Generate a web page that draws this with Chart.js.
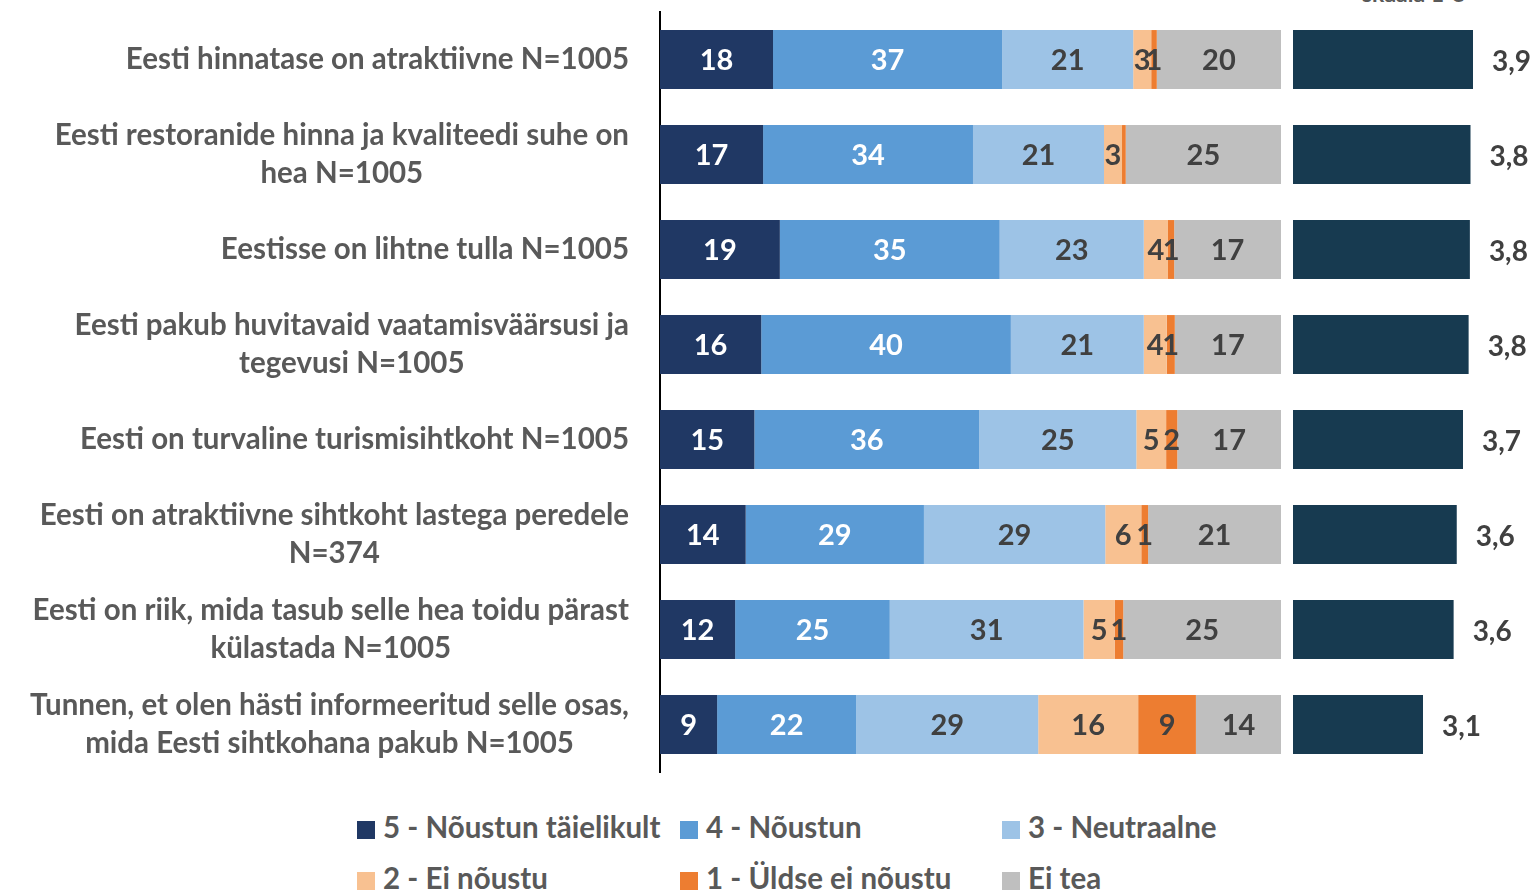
<!DOCTYPE html>
<html>
<head>
<meta charset="utf-8">
<title>Eesti kui sihtkoht</title>
<script src="https://cdn.jsdelivr.net/npm/chart.js@4.4.1/dist/chart.umd.min.js"></script>
<style>
  body { margin: 0; width: 1534px; height: 891px; overflow: hidden; background: #fff; position: relative; font-family: Lato, "Open Sans", sans-serif; }
  #mainChart { position: absolute; left: 0; top: 0; }
  #avgChart { position: absolute; left: 1285px; top: 0; }
  #scaleNote { position: absolute; left: 1362px; top: -21px; font-size: 23px; font-weight: bold; color: #595959; }
  .legItem { position: absolute; font-size: 29.5px; font-weight: bold; color: #595959; white-space: nowrap; line-height: 32px; }
  .legItem span { display: inline-block; width: 18px; height: 18px; margin-right: 8px; vertical-align: -1px; }
</style>
</head>
<body>
<div id="scaleNote">skaala 1-5</div>
<canvas id="mainChart" width="1285" height="780"></canvas>
<canvas id="avgChart" width="262" height="780"></canvas>
<div id="legend"></div>
<script>
// kategooriad (väited)
const categories = [
    "Eesti hinnatase on atraktiivne N=1005",
    ["Eesti restoranide hinna ja kvaliteedi suhe on", "hea N=1005"],
    "Eestisse on lihtne tulla N=1005",
    ["Eesti pakub huvitavaid vaatamisväärsusi ja", "tegevusi N=1005"],
    "Eesti on turvaline turismisihtkoht N=1005",
    ["Eesti on atraktiivne sihtkoht lastega peredele", "N=374"],
    ["Eesti on riik, mida tasub selle hea toidu pärast", "külastada N=1005"],
    ["Tunnen, et olen hästi informeeritud selle osas,", "mida Eesti sihtkohana pakub N=1005"]
];

// vastuste jaotus, %
const noustunTaielikult = [18.2, 16.6, 19.3, 16.3, 15.2, 13.8, 12.1, 9.2];
const noustun = [36.9, 33.8, 35.4, 40.2, 36.2, 28.7, 24.9, 22.4];
const neutraalne = [21.1, 21.1, 23.2, 21.4, 25.3, 29.2, 31.2, 29.3];
const eiNoustu = [2.9, 2.9, 3.9, 3.7, 4.8, 5.8, 5.0, 16.1];
const uldseEiNoustu = [0.9, 0.6, 1.0, 1.3, 1.8, 1.1, 1.4, 9.3];
const eiTea = [20.0, 25.0, 17.2, 17.1, 16.7, 21.4, 25.4, 13.7];

// keskmised, skaala 1-5
const averages = [3.88, 3.84, 3.83, 3.81, 3.72, 3.62, 3.57, 3.08];

const seriesNames = ["5 - Nõustun täielikult", "4 - Nõustun", "3 - Neutraalne", "2 - Ei nõustu", "1 - Üldse ei nõustu", "Ei tea"];
const seriesData = [noustunTaielikult, noustun, neutraalne, eiNoustu, uldseEiNoustu, eiTea];
const seriesColors = ["#203864", "#5B9BD5", "#9DC3E6", "#F8C191", "#ED7D31", "#BFBFBF"];
const labelColors = ["#ffffff", "#ffffff", "#404040", "#404040", "#404040", "#404040"];
const avgColor = "#173A50";

const LABEL_FONT = "bold 29px Lato, 'Open Sans', sans-serif";
const CAT_FONT = "bold 29.5px Lato, 'Open Sans', sans-serif";

// numbrid ribade sisse
const segmentLabels = {
    id: "segmentLabels",
    afterDatasetsDraw(chart) {
        const ctx = chart.ctx;
        ctx.save();
        ctx.font = LABEL_FONT;
        ctx.textAlign = "center";
        ctx.textBaseline = "middle";
        chart.data.datasets.forEach((ds, di) => {
            const meta = chart.getDatasetMeta(di);
            meta.data.forEach((bar, i) => {
                const v = ds.data[i];
                if (v < 0.7) return;
                ctx.fillStyle = labelColors[di];
                ctx.fillText(Math.round(v), (bar.x + bar.base) / 2, bar.y + 1);
            });
        });
        ctx.restore();
    }
};

// kategooriate nimed: plokk paremale joondatud, read ploki sees keskel (nagu Excelis)
const categoryLabels = {
    id: "categoryLabels",
    afterDraw(chart) {
        const ctx = chart.ctx;
        const yScale = chart.scales.y;
        const right = yScale.right - 31;
        const lineH = 38.5;
        ctx.save();
        ctx.font = CAT_FONT;
        ctx.fillStyle = "#595959";
        ctx.textAlign = "center";
        ctx.textBaseline = "middle";
        chart.data.labels.forEach((lab, i) => {
            const lines = Array.isArray(lab) ? lab : [lab];
            const widest = Math.max(...lines.map((l) => ctx.measureText(l).width));
            const cx = right - widest / 2;
            const y0 = yScale.getPixelForTick(i) - (lines.length - 1) * lineH / 2;
            lines.forEach((l, k) => ctx.fillText(l, cx, y0 + k * lineH));
        });
        ctx.restore();
    }
};

// keskmise väärtus riba kõrvale
const avgLabels = {
    id: "avgLabels",
    afterDatasetsDraw(chart) {
        const ctx = chart.ctx;
        ctx.save();
        ctx.font = "bold 28px Lato, 'Open Sans', sans-serif";
        ctx.textAlign = "left";
        ctx.textBaseline = "middle";
        ctx.fillStyle = "#404040";
        const meta = chart.getDatasetMeta(0);
        meta.data.forEach((bar, i) => {
            const txt = averages[i].toFixed(1).replace(".", ",");
            ctx.fillText(txt, bar.x + 19, bar.y + 2);
        });
        ctx.restore();
    }
};

new Chart(document.getElementById("mainChart"), {
    type: "bar",
    data: {
        labels: categories,
        datasets: seriesData.map((d, i) => ({
            label: seriesNames[i],
            data: d,
            backgroundColor: seriesColors[i],
            borderWidth: 0,
            categoryPercentage: 1,
            barPercentage: 0.62
        }))
    },
    options: {
        indexAxis: "y",
        responsive: false,
        animation: false,
        layout: { padding: { top: 12, bottom: 8, left: 0, right: 4 } },
        plugins: { legend: { display: false }, tooltip: { enabled: false } },
        scales: {
            x: { stacked: true, min: 0, max: 100, display: false },
            y: {
                stacked: true,
                grid: { display: false, drawTicks: false },
                border: { display: true, color: "#000000", width: 2 },
                ticks: { display: false },
                afterFit: (scale) => {
                    scale.width = 660;
                    scale.paddingTop = 0;
                    scale.paddingBottom = 0;
                }
            }
        }
    },
    plugins: [segmentLabels, categoryLabels]
});

new Chart(document.getElementById("avgChart"), {
    type: "bar",
    data: {
        labels: categories,
        datasets: [{
            label: "Keskmine",
            data: averages,
            backgroundColor: avgColor,
            borderWidth: 0,
            categoryPercentage: 1,
            barPercentage: 0.62
        }]
    },
    options: {
        indexAxis: "y",
        responsive: false,
        animation: false,
        layout: { padding: { top: 12, bottom: 8, left: 8, right: 4 } },
        plugins: { legend: { display: false }, tooltip: { enabled: false } },
        scales: {
            x: { min: 1, max: 5, display: false },
            y: { display: false }
        }
    },
    plugins: [avgLabels]
});

// legend, 3 veergu x 2 rida
const legend = document.getElementById("legend");
const legCols = [357, 680, 1002];
const legRows = [811, 862];
seriesNames.forEach((name, i) => {
    const el = document.createElement("div");
    el.className = "legItem";
    el.style.left = legCols[i % 3] + "px";
    el.style.top = legRows[Math.floor(i / 3)] + "px";
    el.innerHTML = `<span style="background:${seriesColors[i]}"></span>${name}`;
    legend.appendChild(el);
});
</script>
</body>
</html>
